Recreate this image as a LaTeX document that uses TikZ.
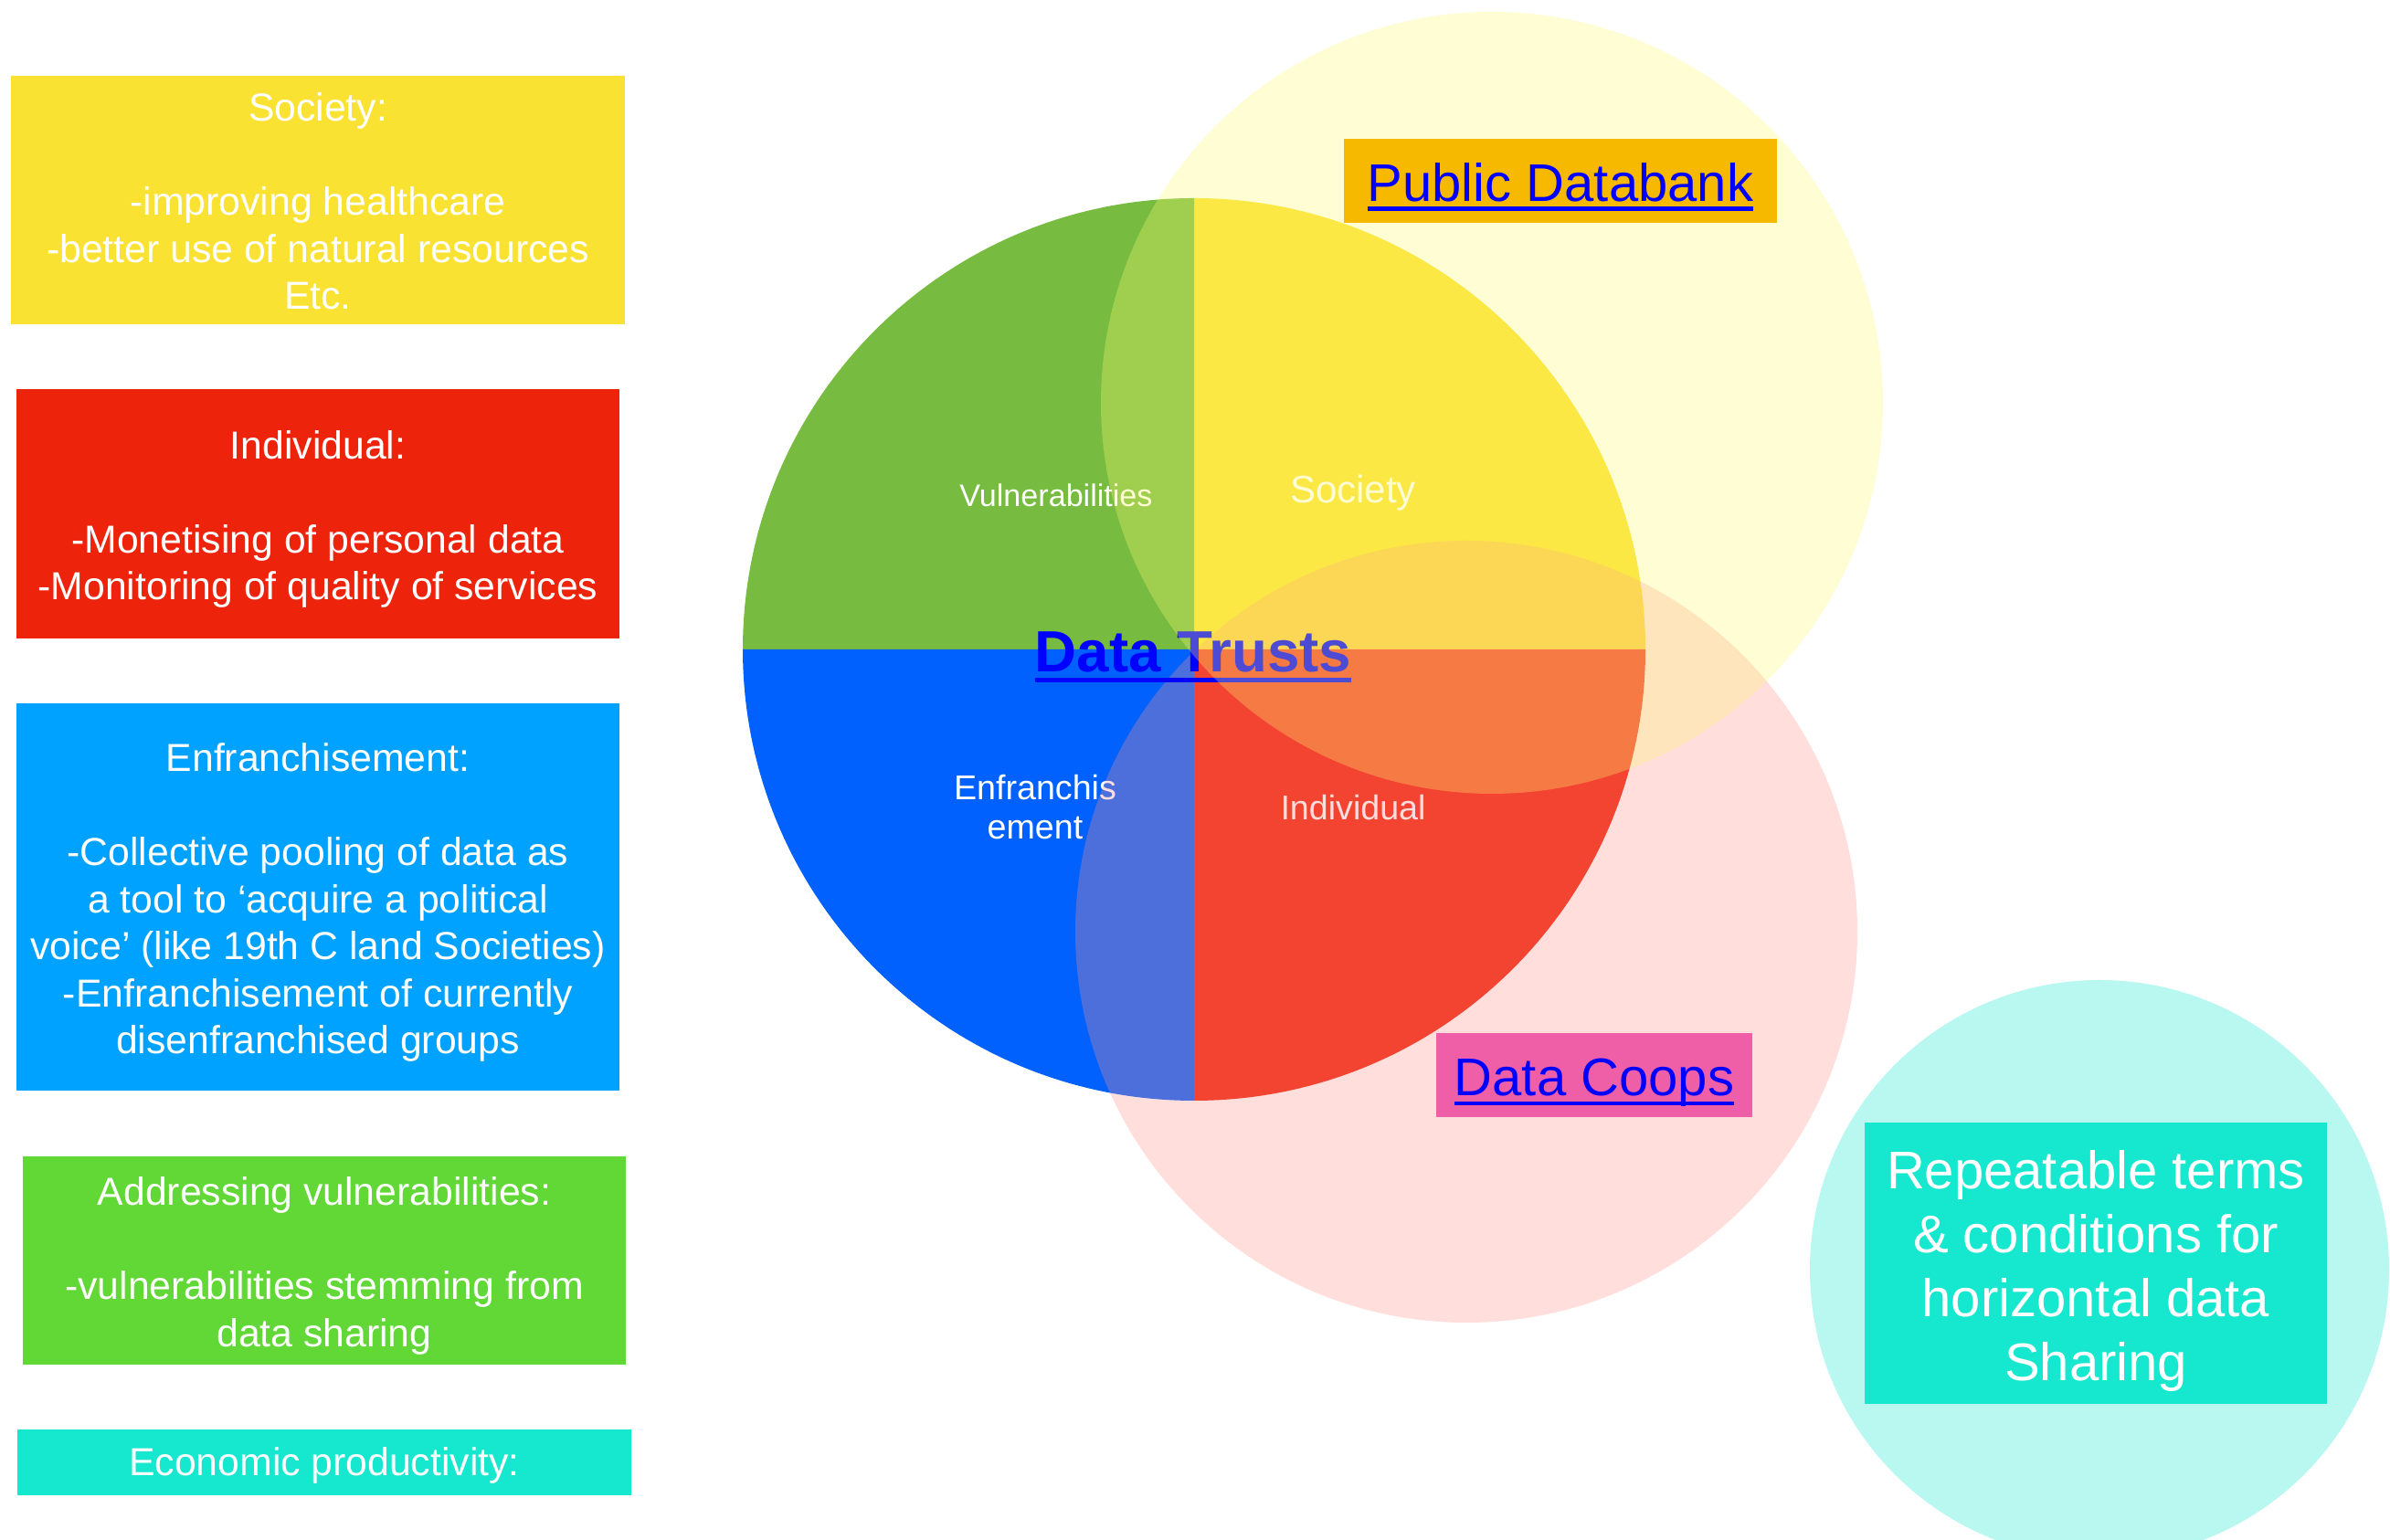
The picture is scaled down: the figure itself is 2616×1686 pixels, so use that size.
\documentclass[tikz,border=0pt]{standalone}
\usepackage{fontspec}
\setmainfont{Liberation Sans}
\usepackage{xcolor}
\usepackage{tikz}
\usetikzlibrary{positioning}

\definecolor{societyYellow}{RGB}{250,226,50}
\definecolor{individualRed}{RGB}{238,35,12}
\definecolor{franchiseBlue}{RGB}{0,162,255}
\definecolor{vulnGreen}{RGB}{97,216,54}
\definecolor{econTeal}{RGB}{22,231,207}
\definecolor{pieGreen}{RGB}{119,188,65}
\definecolor{pieBlue}{RGB}{0,97,254}
\definecolor{bankOrange}{RGB}{246,185,0}
\definecolor{coopPink}{RGB}{239,95,167}
\definecolor{paleYellow}{RGB}{255,248,110}
\definecolor{palePink}{RGB}{255,145,140}
\definecolor{linkBlue}{RGB}{0,0,255}

% hyperlink-style underline
\newcommand{\linktext}[1]{\setbox0\hbox{#1}\rlap{\rule[-0.17em]{\wd0}{0.075em}}\box0}
% invisible strut to push a text block down a little
\newcommand{\boxstrut}[1]{\rule{0pt}{#1}}

\begin{document}
\begin{tikzpicture}[
        x=0.01cm, y=0.01cm,
        node distance=0.7cm,
        sidebox/.style={
            rectangle,
            inner sep=0pt,
            text=white,
            align=center,
            font=\fontsize{12.15}{14.65}\selectfont
        },
        sector label/.style={
            text=white,
            align=center
        },
        zone/.style={
            fill opacity=0.3
        },
        tag/.style={
            rectangle,
            inner sep=0pt,
            text=linkBlue,
            minimum height=0.92cm,
            text height=0.5cm,
            text depth=0.04cm,
            font=\fontsize{16.5}{19}\selectfont
        }
    ]
        \useasboundingbox (0,0) rectangle (2616,1686);

        % Data trust pie
        \coordinate (trust) at (1307,975);
        \fill [societyYellow] (trust) -- ++(0,494) arc[start angle=90, end angle=0, radius=494] -- cycle;
        \fill [pieGreen] (trust) -- ++(-494,0) arc[start angle=180, end angle=90, radius=494] -- cycle;
        \fill [pieBlue] (trust) -- ++(-494,0) arc[start angle=180, end angle=270, radius=494] -- cycle;
        \fill [individualRed] (trust) -- ++(494,0) arc[start angle=0, end angle=-90, radius=494] -- cycle;

        % Sector labels
        \node [sector label, font=\fontsize{9.7}{11.7}\selectfont] (vuln) at (1156,1144) {Vulnerabilities};
        \node [sector label, font=\fontsize{11.95}{14}\selectfont] (soc) at (1481,1146) {Society};
        \node [sector label, font=\fontsize{10.7}{12.2}\selectfont] (enf) at (1133,802) {Enfranchis\\ement};
        \node [sector label, font=\fontsize{10.7}{12.2}\selectfont] (ind) at (1481,802) {Individual};

        % Overlapping circles, title sits between them
        \fill [palePink, zone] (1605,666) circle[radius=428];
        \node [anchor=base, text=linkBlue, font=\fontsize{18.1}{21}\selectfont\bfseries] (trusts) at (1306,950) {\linktext{Data Trusts}};
        \fill [paleYellow, zone] (1633,1245) circle[radius=428];
        \fill [econTeal, zone] (2298,296) circle[radius=317];

        % Circle tags
        \node [tag, fill=bankOrange, minimum width=4.74cm] (bank) at (1708,1488) {\linktext{Public Databank}};
        \node [tag, fill=coopPink, minimum width=3.46cm] (coops) at (1745,509) {\linktext{Data Coops}};
        \node [rectangle, fill=econTeal, text=white, align=center, minimum width=5.05cm, minimum height=3.07cm, font=\fontsize{16.5}{19.9}\selectfont] (terms) at (2294,303) {\boxstrut{0.59cm}Repeatable terms\\\& conditions for\\horizontal data\\Sharing};

        % Benefit boxes
        \node [sidebox, fill=societyYellow, minimum width=6.72cm, minimum height=2.72cm] (society) at (348,1467) {\boxstrut{0.34cm}Society:\\[14.65pt]-improving healthcare\\-better use of natural resources\\Etc.};
        \node [sidebox, fill=individualRed, minimum width=6.59cm, minimum height=2.72cm, below=of society] (individual) {\boxstrut{0.43cm}Individual:\\[14.65pt]-Monetising of personal data\\-Monitoring of quality of services};
        \node [sidebox, fill=franchiseBlue, minimum width=6.59cm, minimum height=4.24cm, below=of individual] (franchise) {\boxstrut{0.43cm}Enfranchisement:\\[14.65pt]-Collective pooling of data as\\a tool to ‘acquire a political\\voice’ (like 19th C land Societies)\\-Enfranchisement of currently\\disenfranchised groups};
        \node [sidebox, fill=vulnGreen, minimum width=6.59cm, minimum height=2.28cm, below=of franchise, xshift=0.07cm] (vulnerable) {\boxstrut{0.43cm}Addressing vulnerabilities:\\[14.65pt]-vulnerabilities stemming from\\data sharing};
        \node [sidebox, fill=econTeal, minimum width=6.72cm, minimum height=0.72cm, below=of vulnerable] (economy) {\boxstrut{0.37cm}Economic productivity:};

    \end{tikzpicture}
\end{document}
